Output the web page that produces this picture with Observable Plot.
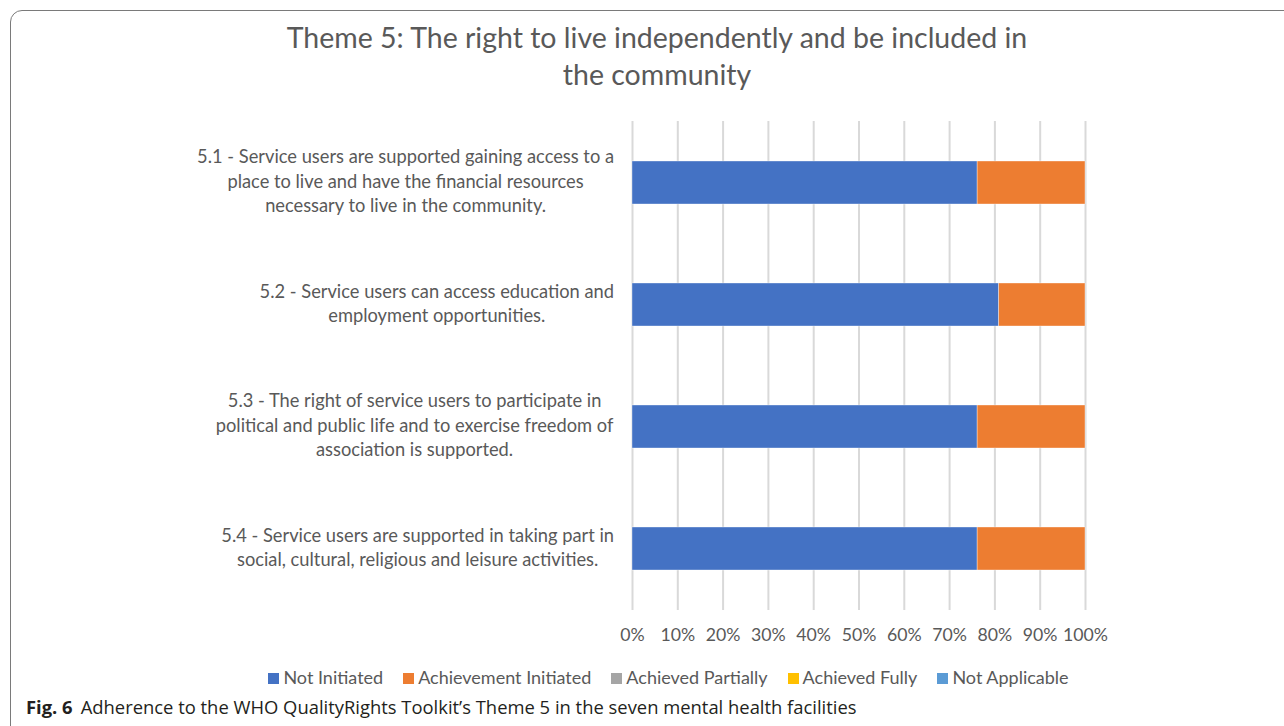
<!DOCTYPE html>
<html>
<head>
<meta charset="utf-8">
<script src="https://cdn.jsdelivr.net/npm/d3@7"></script>
<script src="https://cdn.jsdelivr.net/npm/@observablehq/plot@0.6"></script>
<style>
  html, body { margin: 0; padding: 0; background: #fff; }
  body { width: 1284px; height: 726px; position: relative; overflow: hidden; font-family: Lato, "Open Sans", sans-serif; }
  #frame { position: absolute; left: 10px; top: 10px; width: 1400px; height: 740px; border: 1.5px solid #7a7a7a; border-radius: 12px; box-sizing: border-box; }
  #title { position: absolute; left: 207px; width: 900px; top: 19px; text-align: center; color: #595959; font-size: 28.5px; line-height: 37px; font-weight: 400; }
  #chart { position: absolute; left: 0; top: 100px; }
  #legend { position: absolute; top: 666px; left: 0; width: 1337px; text-align: center; color: #595959; font-size: 18px; white-space: nowrap; }
  #legend span.item { display: inline-block; margin: 0 10px; }
  #legend span.sw { display: inline-block; width: 11px; height: 11px; margin-right: 4px; vertical-align: 0px; }
  #caption { position: absolute; left: 26px; top: 694px; font-family: "Open Sans", sans-serif; font-size: 18.4px; color: #231f20; white-space: nowrap; }
  #caption b { font-weight: 700; margin-right: 8px; }
</style>
</head>
<body>
<div id="frame"></div>
<div id="title">Theme 5: The right to live independently and be included in<br>the community</div>
<div id="chart"></div>
<div id="legend"></div>
<div id="caption"><b>Fig. 6</b>Adherence to the WHO QualityRights Toolkit’s Theme 5 in the seven mental health facilities</div>
<script>
// ---- data ----
const categories = [
  "5.1 - Service users are supported gaining access to a\nplace to live and have the financial resources\nnecessary to live in the community.",
  "5.2 - Service users can access education and\nemployment opportunities.",
  "5.3 - The right of service users to participate in\npolitical and public life and to exercise freedom of\nassociation is supported.",
  "5.4 - Service users are supported in taking part in\nsocial, cultural, religious and leisure activities."
];
const seriesNames = ["Not Initiated", "Achievement Initiated", "Achieved Partially", "Achieved Fully", "Not Applicable"];
const seriesColors = ["#4472C4", "#ED7D31", "#A5A5A5", "#FFC000", "#5B9BD5"];
const notInitiated = [76.19, 80.95, 76.19, 76.19];
const achievementInitiated = [23.81, 19.05, 23.81, 23.81];
const achievedPartially = [0, 0, 0, 0];
const achievedFully = [0, 0, 0, 0];
const notApplicable = [0, 0, 0, 0];
const xTicks = [0, 10, 20, 30, 40, 50, 60, 70, 80, 90, 100];

const seriesValues = [notInitiated, achievementInitiated, achievedPartially, achievedFully, notApplicable];
const rows = [];
seriesNames.forEach((s, si) => {
  categories.forEach((c, ci) => rows.push({category: c, series: s, value: seriesValues[si][ci]}));
});

const chart = Plot.plot({
  width: 1284,
  height: 560,
  marginTop: 21,
  marginBottom: 50,
  marginLeft: 632,
  marginRight: 199,
  style: {fontFamily: "Lato, 'Open Sans', sans-serif", color: "#595959", background: "transparent"},
  x: {domain: [0, 100]},
  y: {domain: categories, paddingInner: 0.65, paddingOuter: 0.325},
  color: {domain: seriesNames, range: seriesColors},
  marks: [
    Plot.ruleX(xTicks, {stroke: "#d9d9d9", strokeWidth: 2}),
    Plot.barX(rows.filter(d => d.value > 0), {x: "value", y: "category", fill: "series", order: seriesNames, stroke: "#ffffff", strokeWidth: 0.6, strokeOpacity: 0.6}),
    Plot.axisX({ticks: xTicks, tickSize: 0, tickPadding: 18, tickFormat: d => d + "%", fontSize: 17.7, fill: "#595959", label: null}),
    Plot.axisY({tickSize: 0, tickPadding: 226.5, textAnchor: "middle", lineHeight: 1.34, dy: -3, fontSize: 18.3, fill: "#595959", label: null, tickFormat: d => d})
  ]
});
document.getElementById("chart").appendChild(chart);

// Excel-style: each wrapped label is centred within its own block, and the block is right-aligned next to the axis
const labelRight = 614;
const svgRect = chart.getBoundingClientRect();
chart.querySelectorAll('g[aria-label="y-axis tick label"] text').forEach(t => {
  const r = t.getBoundingClientRect();
  const shift = labelRight - (r.right - svgRect.left);
  const tr = t.getAttribute("transform") || "";
  t.setAttribute("transform", tr + ` translate(${shift},0)`);
});

const legend = document.getElementById("legend");
seriesNames.forEach((s, i) => {
  const item = document.createElement("span");
  item.className = "item";
  const sw = document.createElement("span");
  sw.className = "sw";
  sw.style.background = seriesColors[i];
  item.appendChild(sw);
  item.appendChild(document.createTextNode(s));
  legend.appendChild(item);
});
</script>
</body>
</html>
